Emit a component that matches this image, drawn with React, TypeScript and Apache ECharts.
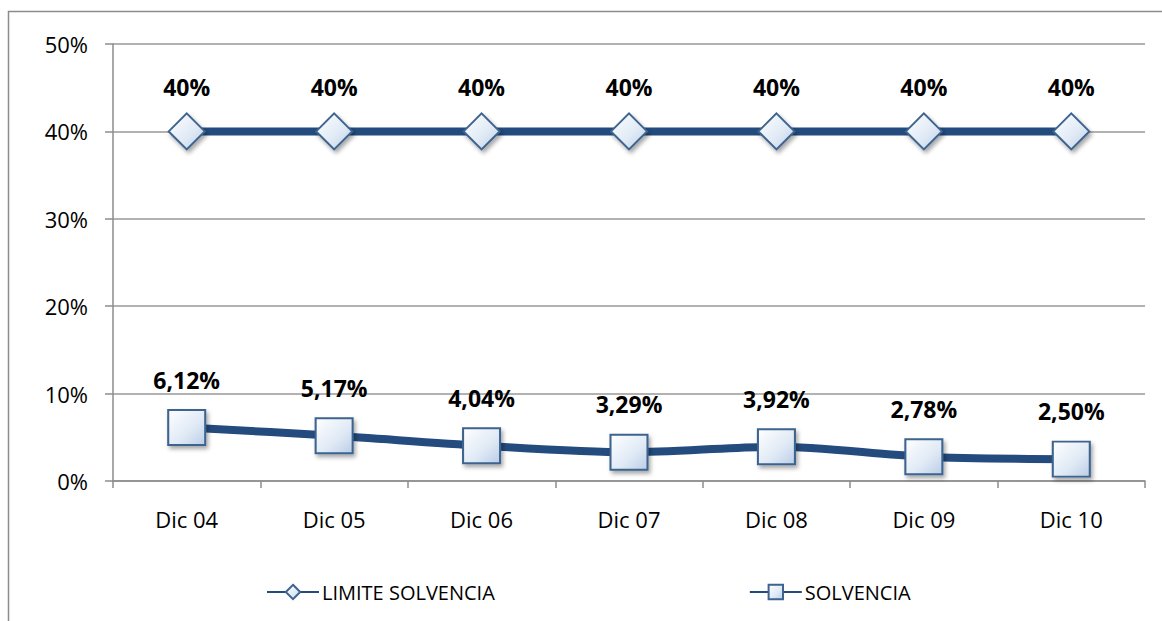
import React, { useEffect, useRef } from "react";
import * as echarts from "echarts";

const categories = ["Dic 04", "Dic 05", "Dic 06", "Dic 07", "Dic 08", "Dic 09", "Dic 10"];
const limiteSolvencia = [40, 40, 40, 40, 40, 40, 40];
const solvencia = [6.12, 5.17, 4.04, 3.29, 3.92, 2.78, 2.5];
const yTicks = { min: 0, max: 50, interval: 10 };

const FONT = "'Open Sans', 'Noto Sans', sans-serif";

const fmtPct = (v: number) => {
  if (Number.isInteger(v)) return v + "%";
  return v.toFixed(2).replace(".", ",") + "%";
};

const markerFill = new echarts.graphic.LinearGradient(0, 0, 1, 1, [
  { offset: 0, color: "#ffffff" },
  { offset: 0.6, color: "#dfe9f5" },
  { offset: 1, color: "#b9cde6" },
]);

export default function App() {
  const ref = useRef<HTMLDivElement>(null);
  useEffect(() => {
    if (!ref.current) return;
    const chart = echarts.init(ref.current, null, { renderer: "svg" });
    const lineColor = "#234b7d";
    const common = {
      type: "line" as const,
      smooth: 0.3,
      lineStyle: { color: lineColor, width: 8 },
      itemStyle: {
        color: markerFill,
        borderColor: "#3d638f",
        borderWidth: 2,
        shadowBlur: 4,
        shadowOffsetX: 2,
        shadowOffsetY: 3,
        shadowColor: "rgba(0,0,0,0.35)",
      },
      label: {
        show: true,
        position: "top" as const,
        fontFamily: FONT,
        fontWeight: "bold" as const,
        fontSize: 23,
        color: "#000",
        formatter: (p: any) => fmtPct(p.value),
      },
      z: 3,
    };
    chart.setOption({
      animation: false,
      backgroundColor: "#fff",
      textStyle: { fontFamily: FONT },
      graphic: [
        {
          type: "rect",
          shape: { x: 8.5, y: 11.5, width: 1170, height: 630 },
          style: { fill: "none", stroke: "#8c8c8c", lineWidth: 1.5 },
          silent: true,
        },
      ],
      grid: { left: 113, right: 17, top: 44, bottom: 140 },
      legend: {
        bottom: 14,
        left: 261,
        itemGap: 254,
        itemWidth: 52,
        itemHeight: 18,
        textStyle: { fontFamily: FONT, fontSize: 20, color: "#000", padding: [0, 0, 0, -2] },
        data: ["LIMITE SOLVENCIA", "SOLVENCIA"],
      },
      xAxis: {
        type: "category",
        data: categories,
        boundaryGap: true,
        axisLine: { lineStyle: { color: "#8c8c8c", width: 1.5 } },
        axisTick: { show: true, length: 7, lineStyle: { color: "#8c8c8c", width: 1.5 } },
        axisLabel: { color: "#000", fontSize: 22, margin: 27, fontFamily: FONT },
      },
      yAxis: {
        type: "value",
        min: yTicks.min,
        max: yTicks.max,
        interval: yTicks.interval,
        axisLine: { show: true, lineStyle: { color: "#8c8c8c", width: 1.5 } },
        axisTick: { show: true, length: 8, lineStyle: { color: "#8c8c8c", width: 1.5 } },
        axisLabel: {
          color: "#000",
          fontSize: 22,
          margin: 25,
          fontFamily: FONT,
          formatter: (v: number) => v + "%",
        },
        splitLine: { show: true, lineStyle: { color: "#999", width: 1.5 } },
      },
      series: [
        {
          ...common,
          name: "LIMITE SOLVENCIA",
          data: limiteSolvencia,
          symbol: "diamond",
          symbolSize: 36,
          label: { ...common.label, distance: 14 },
        },
        {
          ...common,
          name: "SOLVENCIA",
          data: solvencia,
          symbol: "rect",
          symbolSize: [37, 35],
          label: { ...common.label, distance: 18 },
        },
      ],
    });
    return () => chart.dispose();
  }, []);
  return (
    <div
      ref={ref}
      style={{ position: "absolute", left: 0, top: 0, width: 1162, height: 621 }}
    />
  );
}
